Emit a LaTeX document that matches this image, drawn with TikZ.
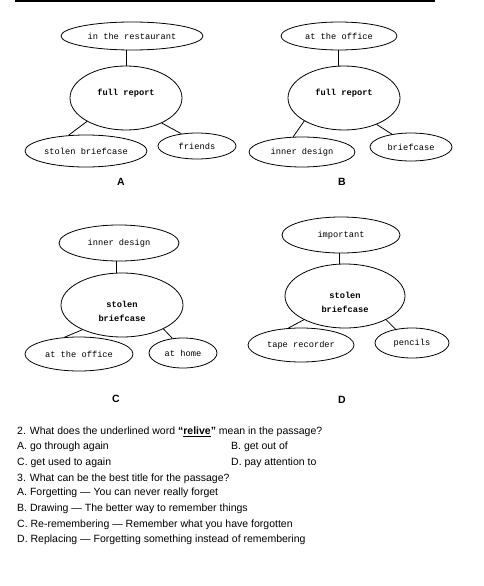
\documentclass[tikz,border=0pt]{standalone}
\usepackage{fontspec}
\setmainfont{Liberation Sans}
\newfontfamily\monofont{Liberation Mono}
\usetikzlibrary{shapes.geometric}
\begin{document}
\begin{tikzpicture}[x=1pt,y=-1pt,
  oval/.style={ellipse, draw, line width=0.8pt, inner sep=0pt,
    font=\monofont\fontsize{8.7}{10}\selectfont},
  mtxt/.style={font=\monofont\bfseries\fontsize{8.7}{14}\selectfont, align=center},
  conn/.style={line width=0.8pt},
  lab/.style={font=\bfseries\fontsize{10.5}{12}\selectfont},
  q/.style={anchor=base west, inner sep=0pt, font=\fontsize{10.5}{12}\selectfont}
]
\useasboundingbox (0,0) rectangle (483,586);
\draw[line width=1.2pt] (15,1) -- (435,1);

% ---------- A ----------
\node[oval, minimum width=142pt, minimum height=28pt] (A1) at (132,36) {in the restaurant};
\node[oval, minimum width=112pt, minimum height=64pt,
  label={[mtxt, yshift=5pt]center:full report}] (A2) at (126,98) {};
\node[oval, minimum width=122pt, minimum height=32pt] (A3) at (86,151) {stolen briefcase};
\node[oval, minimum width=78pt, minimum height=26pt] (A4) at (197,146) {friends};
\draw[conn] (A2.north) -- (A2.north |- A1.south);
\draw[conn] (A2.211) -- (A3.138);
\draw[conn] (A2.325) -- (A4.142);
\node[lab] (LA) at (121,182) {A};

% ---------- B ----------
\node[oval, minimum width=116pt, minimum height=28pt] (B1) at (339,36) {at the office};
\node[oval, minimum width=112pt, minimum height=64pt,
  label={[mtxt, yshift=5pt]center:full report}] (B2) at (344,98) {};
\node[oval, minimum width=106pt, minimum height=30pt] (B3) at (302,152) {inner design};
\node[oval, minimum width=82pt, minimum height=28pt] (B4) at (411,147) {briefcase};
\coordinate (b0) at ([xshift=-1pt]B1.south);
\draw[conn] (b0) -- (b0 |- B2.north);
\draw[conn] (B2.210) -- (B3.120);
\draw[conn] (B2.321) -- (B4.146);
\node[lab] (LB) at (342,182) {B};

% ---------- C ----------
\node[oval, minimum width=120pt, minimum height=36pt] (C1) at (119,243) {inner design};
\node[oval, minimum width=122pt, minimum height=64pt,
  label={[mtxt, yshift=-6pt]center:stolen\\briefcase}] (C2) at (122,305) {};
\node[oval, minimum width=108pt, minimum height=34pt] (C3) at (79,354) {at the office};
\node[oval, minimum width=68pt, minimum height=30pt] (C4) at (183,353) {at home};
\coordinate (c0) at ([xshift=-3pt]C1.south);
\draw[conn] (c0) -- (c0 |- C2.north);
\draw[conn] (C2.212) -- (C3.131);
\draw[conn] (C2.330) -- (C4.126);
\node[lab] (LC) at (116,399) {C};

% ---------- D ----------
\node[oval, minimum width=118pt, minimum height=36pt] (D1) at (341,235) {important};
\node[oval, minimum width=120pt, minimum height=64pt,
  label={[mtxt, yshift=-6pt]center:stolen\\briefcase}] (D2) at (345,296) {};
\node[oval, minimum width=106pt, minimum height=34pt] (D3) at (301,345) {tape recorder};
\node[oval, minimum width=74pt, minimum height=30pt] (D4) at (412,343) {pencils};
\coordinate (d0) at ([xshift=-2pt]D1.south);
\draw[conn] (d0) -- (d0 |- D2.north);
\draw[conn] (D2.210) -- (D3.127);
\draw[conn] (D2.330) -- (D4.140);
\node[lab] (LD) at (342,400) {D};

% ---------- questions ----------
\node[q] (q1) at (17,434.5) {2. What does the underlined word \textbf{“\underline{relive}”} mean in the passage?};
\node[q] (q2a) at (17,449.5) {A. go through again};
\node[q] (q2b) at (231,449.5) {B. get out of};
\node[q] (q2c) at (17,465.5) {C. get used to again};
\node[q] (q2d) at (231,465.5) {D. pay attention to};
\node[q] (q3) at (17,481) {3. What can be the best title for the passage?};
\node[q] (q3a) at (17,495.5) {A. Forgetting — You can never really forget};
\node[q] (q3b) at (17,511.5) {B. Drawing — The better way to remember things};
\node[q] (q3c) at (17,527.5) {C. Re-remembering — Remember what you have forgotten};
\node[q] (q3d) at (17,542.5) {D. Replacing — Forgetting something instead of remembering};
\end{tikzpicture}
\end{document}
